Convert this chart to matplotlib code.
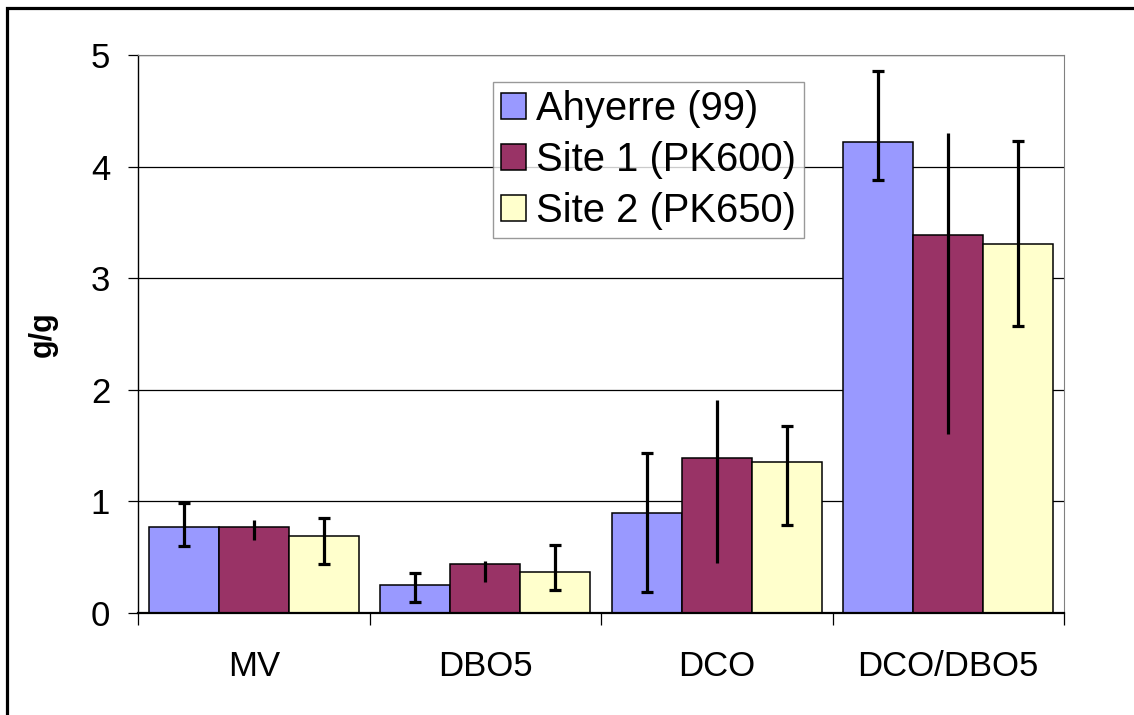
import numpy as np
import matplotlib
matplotlib.use("Agg")
import matplotlib.pyplot as plt
from matplotlib.patches import Rectangle

plt.rcParams['font.family'] = ['Liberation Sans', 'DejaVu Sans']

# data
categories = ['MV', 'DBO5', 'DCO', 'DCO/DBO5']
series_names = ['Ahyerre (99)', 'Site 1 (PK600)', 'Site 2 (PK650)']

ahyerre = [0.77, 0.25, 0.90, 4.22]
ahyerre_low = [0.60, 0.10, 0.19, 3.88]
ahyerre_high = [0.99, 0.36, 1.43, 4.86]

site1 = [0.77, 0.44, 1.39, 3.39]
site1_low = [0.65, 0.28, 0.45, 1.60]
site1_high = [0.83, 0.47, 1.91, 4.30]

site2 = [0.69, 0.37, 1.35, 3.31]
site2_low = [0.44, 0.21, 0.79, 2.57]
site2_high = [0.85, 0.61, 1.68, 4.23]

colors = ['#9999FF', '#993366', '#FFFFCC']
caps = [4, 0, 4]

fig = plt.figure(figsize=(11.34, 7.15), dpi=100)
ax = fig.add_axes([138 / 1134, 1 - 613 / 715, (1064 - 138) / 1134, (613 - 55) / 715])

x = np.arange(len(categories))
width = 0.3024
series = [(ahyerre, ahyerre_low, ahyerre_high),
          (site1, site1_low, site1_high),
          (site2, site2_low, site2_high)]

for i, (vals, low, high) in enumerate(series):
    vals = np.array(vals)
    yerr = [vals - np.array(low), np.array(high) - vals]
    pos = x + (i - 1) * width
    ax.bar(pos, vals, width, color=colors[i], edgecolor='black', linewidth=1.1,
           label=series_names[i], zorder=2)
    ax.errorbar(pos, vals, yerr=yerr, fmt='none', ecolor='black', elinewidth=2.3,
                capsize=caps[i], capthick=2.3, zorder=3)

ax.set_xlim(-0.5, 3.5)
ax.set_ylim(0, 5)
ax.set_yticks(range(0, 6))
ax.yaxis.grid(True, color='black', linewidth=0.9, zorder=0)
ax.set_axisbelow(True)

ax.set_xticks(x)
ax.set_xticklabels(categories)
ax.set_xticks(np.arange(-0.5, 4.0, 1.0), minor=True)
ax.tick_params(axis='x', which='major', length=0, pad=27, labelsize=25)
ax.tick_params(axis='x', which='minor', length=8.5, width=0.9, direction='out')
ax.tick_params(axis='y', length=7, width=0.9, pad=13, labelsize=25)

ax.spines['left'].set_linewidth(1.0)
ax.spines['bottom'].set_linewidth(1.6)
ax.spines['right'].set_color('#808080')
ax.spines['top'].set_color('#808080')

ax.set_ylabel('g/g', fontsize=22, fontweight='bold', labelpad=24)

leg = ax.legend(loc='upper left', bbox_to_anchor=(493 / 1134, 1 - 82 / 715),
                bbox_transform=fig.transFigure, fontsize=28.8, frameon=True,
                fancybox=False, borderaxespad=0, borderpad=0.2,
                handlelength=0.62, handleheight=0.62, handletextpad=0.25,
                labelspacing=0.33)
leg.get_frame().set_edgecolor('#808080')
leg.get_frame().set_linewidth(1.0)

# outer frame of the chart
fig.add_artist(Rectangle((7 / 1134, -0.1), 1.2, 1.1 - 8 / 715, fill=False,
                         edgecolor='black', linewidth=2.3,
                         transform=fig.transFigure))

fig.savefig('out.png', dpi=100)
